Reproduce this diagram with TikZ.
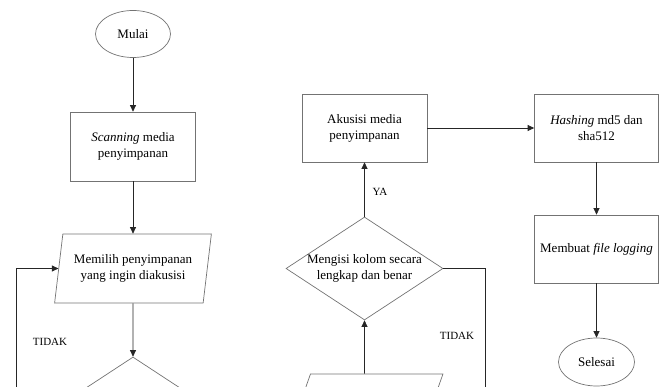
\documentclass[tikz,border=0pt]{standalone}
\usepackage{fontspec}
\setmainfont{Liberation Serif}
\usetikzlibrary{shapes.geometric,arrows.meta}
\begin{document}
\begin{tikzpicture}[x=1pt,y=-1pt,
  font=\fontsize{13}{16}\selectfont,
  shp/.style={draw=black!55, line width=0.7pt, align=center, inner sep=0pt},
  proc/.style={shp, rectangle, minimum width=124pt, minimum height=68pt},
  term/.style={shp, ellipse, minimum width=75pt, minimum height=47pt},
  io/.style={shp, trapezium, trapezium left angle=76, trapezium right angle=104,
    trapezium stretches=true, minimum width=157pt, minimum height=69pt},
  dec/.style={shp, diamond, minimum width=157pt, minimum height=103pt},
  arr/.style={draw=black!85, line width=0.7pt, -{Triangle[length=6.5pt,width=6pt]}},
  lin/.style={draw=black!85, line width=0.7pt},
  lbl/.style={font=\fontsize{11}{13}\selectfont, inner sep=0pt}]
\useasboundingbox (0,0) rectangle (666,387);
\clip (0,0) rectangle (666,387);
% left column
\node[term] (mulai) at (133,34) {Mulai};
\node[proc, minimum width=125pt, minimum height=69pt] (scan) at (133,146.5) {\textit{Scanning} media\\penyimpanan};
\node[io] (pilih) at (133,268.5) {Memilih penyimpanan\\yang ingin diakusisi};
\node[dec] (cek1) at (133,408.5) {\phantom{X}};
\coordinate (loopin) at (16,400);
\node[lbl] (tidak1) at (50,342) {TIDAK};
% middle column
\node[proc, minimum width=125pt] (akusisi) at (364.5,128) {Akusisi media\\penyimpanan};
\node[dec] (cek2) at (364.5,268.5) {\raisebox{-3pt}[0pt][0pt]{\makebox[0pt]{\begin{tabular}{@{}c@{}}Mengisi kolom secara\\lengkap dan benar\end{tabular}}}};
\node[io] (input2) at (364.5,408.5) {\phantom{X}};
\coordinate (loop2) at (485,400);
\node[lbl] (ya) at (380,192) {YA};
\node[lbl] (tidak2) at (457,336) {TIDAK};
% right column
\node[proc] (hash) at (596.5,128) {\textit{Hashing} md5 dan\\sha512};
\node[proc] (log) at (596.5,249) {Membuat \textit{file logging}};
\node[term, minimum width=76pt, minimum height=48pt] (selesai) at (596.5,362) {Selesai};
% connectors
\draw[arr] (mulai) -- (scan);
\draw[arr] (scan) -- (pilih);
\draw[arr] (pilih) -- (cek1);
\draw[arr] (loopin) |- (pilih.west);
\draw[arr] (input2) -- (cek2);
\draw[arr] (cek2) -- (akusisi);
\draw[lin] (cek2.east) -| (loop2);
\draw[arr] (akusisi) -- (hash);
\draw[arr] (hash) -- (log);
\draw[arr] (log) -- (selesai);
\end{tikzpicture}
\end{document}
